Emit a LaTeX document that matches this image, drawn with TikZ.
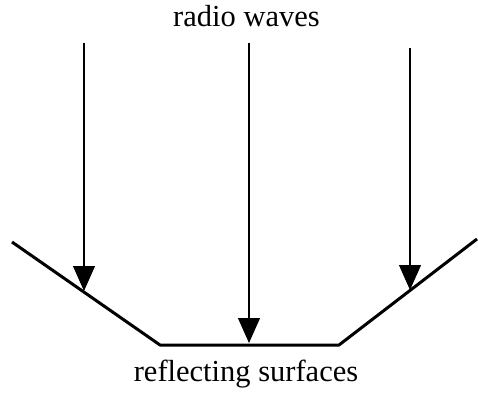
\documentclass[tikz,border=0pt]{standalone}
\usepackage{fontspec}
\setmainfont{Liberation Serif}
\usetikzlibrary{arrows.meta}
\tikzset{
  surface/.style={line width=3pt,draw=black,line join=bevel},
  wave/.style={-{Triangle[length=25pt,width=22pt]},line width=1.1pt,draw=black},
  caption-text/.style={font=\fontsize{30.5}{36}\selectfont,inner sep=0pt,anchor=base},
}

\begin{document}
\begin{tikzpicture}[x=1pt,y=-1pt]
  \useasboundingbox (0,0) rectangle (478,398);
  % reflecting surfaces
  \coordinate (surfL)  at (12,242);
  \coordinate (bendL)  at (160,345);
  \coordinate (bendR)  at (339,345);
  \coordinate (surfR)  at (477,239);
  \draw[surface] (surfL) -- (bendL) -- (bendR) -- (surfR);
  % incoming waves
  \coordinate (srcL) at (84,43);
  \coordinate (srcM) at (249,43);
  \coordinate (srcR) at (410,48);
  \coordinate (hitL) at (84,291);
  \coordinate (hitM) at (249,343);
  \coordinate (hitR) at (410,290);
  \draw[wave] (srcL) -- (hitL);
  \draw[wave] (srcM) -- (hitM);
  \draw[wave] (srcR) -- (hitR);
  % captions
  \node[caption-text] (waves) at (246.5,27) {radio waves};
  \node[caption-text] (surfaces) at (246,381) {reflecting surfaces};
\end{tikzpicture}
\end{document}
